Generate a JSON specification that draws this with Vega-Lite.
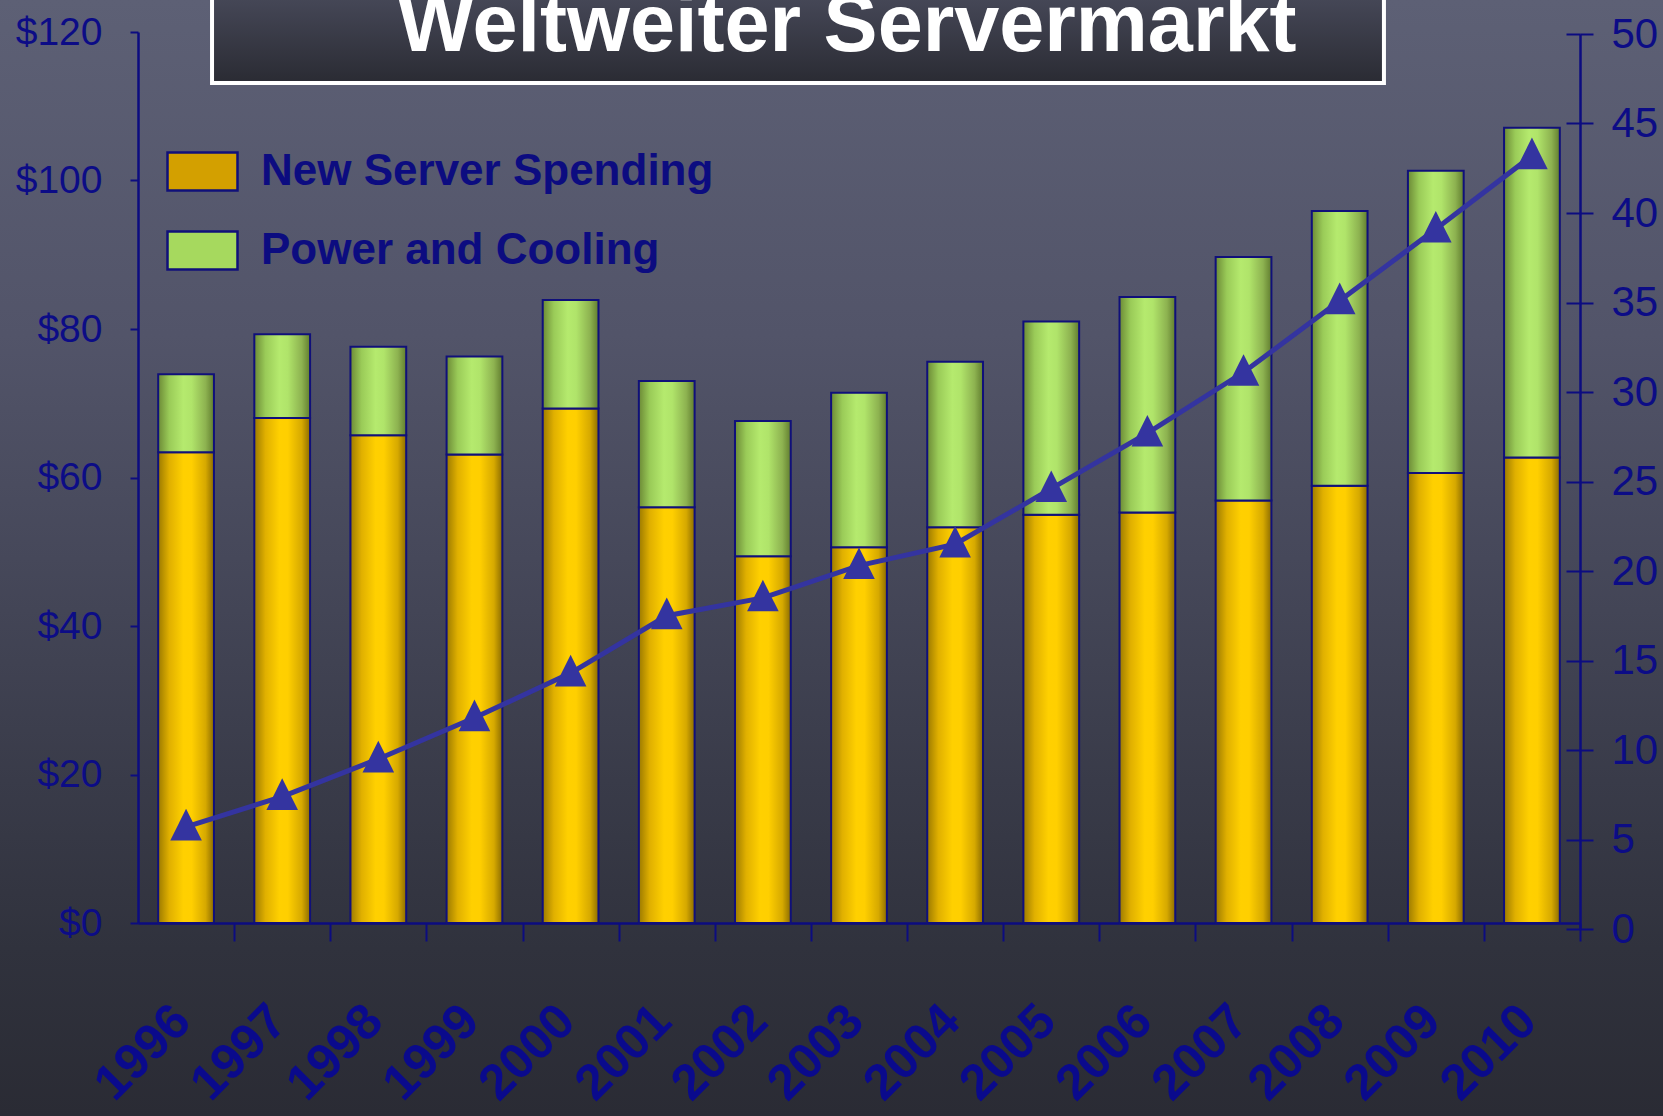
{
  "$schema": "https://vega.github.io/schema/vega-lite/v6.json",
  "width": 1663,
  "height": 1116,
  "autosize": {"type": "none"},
  "padding": 0,
  "background": "#3d3f4e",
  "config": {
    "view": {
      "stroke": null,
      "fill": {"gradient": "linear", "x1": 0, "y1": 0, "x2": 0, "y2": 1,
        "stops": [
          {"offset": 0, "color": "#5d6075"},
          {"offset": 0.3, "color": "#525469"},
          {"offset": 0.5, "color": "#46485a"},
          {"offset": 0.7, "color": "#393b49"},
          {"offset": 0.85, "color": "#30323d"},
          {"offset": 1, "color": "#2a2b34"}
        ]}
    },
    "axis": {"grid": false, "domainColor": "#0c0c80", "tickColor": "#0c0c80", "labelColor": "#0c0c86", "title": null}
  },
  "datasets": {
    "spending": [
      {"year": "1996", "series": "New Server Spending", "value": 63.4},
      {"year": "1996", "series": "Power and Cooling", "value": 10.5},
      {"year": "1997", "series": "New Server Spending", "value": 68.0},
      {"year": "1997", "series": "Power and Cooling", "value": 11.3},
      {"year": "1998", "series": "New Server Spending", "value": 65.7},
      {"year": "1998", "series": "Power and Cooling", "value": 11.9},
      {"year": "1999", "series": "New Server Spending", "value": 63.1},
      {"year": "1999", "series": "Power and Cooling", "value": 13.2},
      {"year": "2000", "series": "New Server Spending", "value": 69.3},
      {"year": "2000", "series": "Power and Cooling", "value": 14.6},
      {"year": "2001", "series": "New Server Spending", "value": 56.0},
      {"year": "2001", "series": "Power and Cooling", "value": 17.0},
      {"year": "2002", "series": "New Server Spending", "value": 49.4},
      {"year": "2002", "series": "Power and Cooling", "value": 18.2},
      {"year": "2003", "series": "New Server Spending", "value": 50.6},
      {"year": "2003", "series": "Power and Cooling", "value": 20.8},
      {"year": "2004", "series": "New Server Spending", "value": 53.3},
      {"year": "2004", "series": "Power and Cooling", "value": 22.3},
      {"year": "2005", "series": "New Server Spending", "value": 55.0},
      {"year": "2005", "series": "Power and Cooling", "value": 26.0},
      {"year": "2006", "series": "New Server Spending", "value": 55.3},
      {"year": "2006", "series": "Power and Cooling", "value": 29.0},
      {"year": "2007", "series": "New Server Spending", "value": 56.9},
      {"year": "2007", "series": "Power and Cooling", "value": 32.8},
      {"year": "2008", "series": "New Server Spending", "value": 58.9},
      {"year": "2008", "series": "Power and Cooling", "value": 37.0},
      {"year": "2009", "series": "New Server Spending", "value": 60.6},
      {"year": "2009", "series": "Power and Cooling", "value": 40.7},
      {"year": "2010", "series": "New Server Spending", "value": 62.7},
      {"year": "2010", "series": "Power and Cooling", "value": 44.4}
    ],
    "base": [
      {"year": "1996", "units": 5.7},
      {"year": "1997", "units": 7.4},
      {"year": "1998", "units": 9.5},
      {"year": "1999", "units": 11.8},
      {"year": "2000", "units": 14.3},
      {"year": "2001", "units": 17.5},
      {"year": "2002", "units": 18.5},
      {"year": "2003", "units": 20.3},
      {"year": "2004", "units": 21.5},
      {"year": "2005", "units": 24.6},
      {"year": "2006", "units": 27.7},
      {"year": "2007", "units": 31.1},
      {"year": "2008", "units": 35.1},
      {"year": "2009", "units": 39.1},
      {"year": "2010", "units": 43.2}
    ]
  },
  "layer": [
    {
      "data": {"values": [{}]},
      "layer": [
        {
          "mark": {"type": "rect", "stroke": "#ffffff", "strokeWidth": 4,
            "fill": {"gradient": "linear", "x1": 0, "y1": 0, "x2": 0, "y2": 1,
              "stops": [
                {"offset": 0, "color": "#5a5d6e"},
                {"offset": 0.35, "color": "#474959"},
                {"offset": 1, "color": "#2a2b33"}
              ]}},
          "encoding": {
            "x": {"datum": 0.1275, "type": "quantitative", "scale": {"domain": [0, 1], "range": [0, 1663]}, "axis": null},
            "x2": {"datum": 0.8322},
            "y": {"datum": 0.9256, "type": "quantitative", "scale": {"domain": [0, 1], "range": [1116, 0]}, "axis": null},
            "y2": {"datum": 1.05}
          }
        },
        {
          "mark": {"type": "text", "text": "Weltweiter Servermarkt", "font": "Liberation Sans", "fontWeight": "bold", "fontSize": 81, "color": "#ffffff", "align": "center", "baseline": "alphabetic"},
          "encoding": {
            "x": {"datum": 0.5093, "type": "quantitative"},
            "y": {"datum": 0.9543, "type": "quantitative"}
          }
        }
      ]
    },
    {
      "layer": [
        {
          "data": {"name": "spending"},
          "transform": [
            {"stack": "value", "groupby": ["year"], "sort": [{"field": "series", "order": "ascending"}], "as": ["v0", "v1"]}
          ],
          "encoding": {
            "x": {"field": "year", "type": "nominal",
              "scale": {"range": [138, 1580], "paddingInner": 0.42, "paddingOuter": 0.21},
              "axis": {"orient": "bottom", "offset": -193, "domainWidth": 2.5, "tickOffset": 48.07, "labelOffset": -52, "tickSize": 18, "tickWidth": 2,
                "labelAngle": -45, "labelAlign": "right", "labelBaseline": "middle", "labelFont": "Liberation Sans", "labelFontWeight": "bold",
                "labelFontSize": 50, "labelPadding": 72, "labelOverlap": false, "labelColor": "#0a0a8c", "title": null}},
            "y": {"field": "v0", "type": "quantitative",
              "scale": {"domain": [0, 120], "range": [923, 32], "nice": false},
              "axis": {"orient": "left", "offset": -138, "values": [0, 20, 40, 60, 80, 100, 120], "labelExpr": "'$' + datum.value",
                "tickSize": 8, "tickWidth": 2, "domainWidth": 2.5, "labelFont": "Liberation Sans", "labelFontSize": 39, "labelPadding": 28, "title": null}},
            "y2": {"field": "v1"}
          },
          "layer": [
            {
              "mark": {"type": "bar", "opacity": 0},
              "encoding": {
                "color": {"field": "series", "type": "nominal",
                  "scale": {"range": ["#d3a000", "#a6d95e"]},
                  "legend": {"orient": "none", "legendX": 166, "legendY": 135, "title": null, "padding": 0,
                    "symbolType": "M-1,-0.54H1V0.54H-1Z", "symbolSize": 4900, "symbolStrokeColor": "#10107a", "symbolStrokeWidth": 2.5,
                    "symbolOpacity": 1,
                    "labelFont": "Liberation Sans", "labelFontWeight": "bold", "labelFontSize": 44, "labelColor": "#0c0c80",
                    "labelOffset": 22, "rowPadding": 18, "labelLimit": 1000,
                    "encode": {"symbols": {"update": {
                      "opacity": {"value": 1},
                      "stroke": {"value": "#10107a"},
                      "strokeWidth": {"value": 2.5}
                    }}}}}
              }
            },
            {
              "transform": [{"filter": "datum.series === 'New Server Spending'"}],
              "mark": {"type": "bar", "stroke": "#10107a", "strokeWidth": 2,
                "fill": {"gradient": "linear", "x1": 0, "y1": 0, "x2": 1, "y2": 0,
                  "stops": [
                    {"offset": 0, "color": "#9c7a00"},
                    {"offset": 0.2, "color": "#e0b000"},
                    {"offset": 0.45, "color": "#ffd000"},
                    {"offset": 0.6, "color": "#ffcf00"},
                    {"offset": 0.85, "color": "#d6a900"},
                    {"offset": 1, "color": "#8c6c00"}
                  ]}}
            },
            {
              "transform": [{"filter": "datum.series === 'Power and Cooling'"}],
              "mark": {"type": "bar", "stroke": "#10107a", "strokeWidth": 2,
                "fill": {"gradient": "linear", "x1": 0, "y1": 0, "x2": 1, "y2": 0,
                  "stops": [
                    {"offset": 0, "color": "#6c8a36"},
                    {"offset": 0.2, "color": "#9acb58"},
                    {"offset": 0.45, "color": "#b5ea6e"},
                    {"offset": 0.6, "color": "#b0e46a"},
                    {"offset": 0.85, "color": "#8db250"},
                    {"offset": 1, "color": "#617d2f"}
                  ]}}
            }
          ]
        },
        {
          "data": {"name": "base"},
          "mark": {"type": "line", "color": "#3434a0", "strokeWidth": 5},
          "encoding": {
            "x": {"field": "year", "type": "nominal"},
            "y": {"field": "units", "type": "quantitative",
              "scale": {"domain": [0, 50], "range": [929, 34], "nice": false},
              "axis": {"orient": "right", "offset": -83, "values": [0, 5, 10, 15, 20, 25, 30, 35, 40, 45, 50],
                "tickSize": 13, "tickWidth": 2, "domainWidth": 2.5, "labelFont": "Liberation Sans", "labelFontSize": 42, "labelPadding": 18, "title": null}}
          }
        },
        {
          "data": {"name": "base"},
          "mark": {"type": "point", "shape": "M0,-1.15L1,0.85L-1,0.85Z", "filled": true, "size": 1000, "color": "#3434a0", "opacity": 1},
          "encoding": {
            "x": {"field": "year", "type": "nominal"},
            "y": {"field": "units", "type": "quantitative",
              "scale": {"domain": [0, 50], "range": [929, 34], "nice": false},
              "axis": {"orient": "right", "offset": -83, "values": [0, 5, 10, 15, 20, 25, 30, 35, 40, 45, 50],
                "tickSize": -14, "tickWidth": 2, "domain": false, "labels": false, "title": null}}
          }
        }
      ],
      "resolve": {"scale": {"y": "independent"}}
    }
  ],
  "resolve": {"scale": {"x": "independent", "y": "independent"}}
}
